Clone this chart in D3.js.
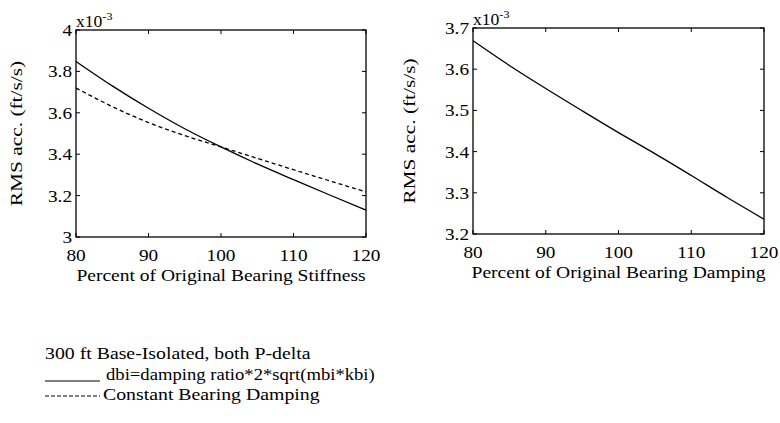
<!DOCTYPE html>
<html lang="en">
<head>
<meta charset="UTF-8">
<title>RMS acceleration vs bearing properties</title>
<script src="https://d3js.org/d3.v7.min.js"></script>
<style>
    body { margin: 0; background: #fff; }
    svg { font-family: "Liberation Serif", "DejaVu Serif", serif; fill: #000; }
</style>
</head>
<body>
<svg id="chart" width="780" height="423"></svg>
<script>
    // x values (percent of original)
    const pct = [80, 85, 90, 95, 100, 105, 110, 115, 120];

    // stiffness plot, values x10^-3
    const stiffSolid  = [3.848, 3.730, 3.622, 3.523, 3.435, 3.353, 3.277, 3.203, 3.130];
    const stiffDashed = [3.720, 3.630, 3.553, 3.490, 3.435, 3.380, 3.325, 3.271, 3.218];

    // damping plot, values x10^-3
    const dampSolid = [3.669, 3.609, 3.553, 3.499, 3.446, 3.395, 3.342, 3.288, 3.236];

    const xTicks = [80, 90, 100, 110, 120];
    const stiffYTicks = [3, 3.2, 3.4, 3.6, 3.8, 4];
    const dampYTicks = [3.2, 3.3, 3.4, 3.5, 3.6, 3.7];

    const legendTitle = "300 ft Base-Isolated, both P-delta";
    const legendItems = [
        { text: "dbi=damping ratio*2*sqrt(mbi*kbi)", dash: null },
        { text: "Constant Bearing Damping", dash: "4,2" }
    ];

    const svg = d3.select("#chart");

    // the scanned figure's type is wide, so labels get a horizontal stretch
    function label(g, x, y, str, size, anchor, sx, rot) {
        return g.append("text")
            .attr("transform", `translate(${x},${y})${rot ? " rotate(" + rot + ")" : ""} scale(${sx},1)`)
            .attr("text-anchor", anchor)
            .style("font-size", size + "px")
            .text(str);
    }

    function drawPanel(opts) {
        const { left, top, w, h, yDomain, yTicks, series, xLabel, yLabelOff } = opts;
        const x = d3.scaleLinear().domain([80, 120]).range([left, left + w]);
        const y = d3.scaleLinear().domain(yDomain).range([top + h, top]);
        const g = svg.append("g");

        g.append("rect")
            .attr("x", left).attr("y", top)
            .attr("width", w).attr("height", h)
            .attr("fill", "none").attr("stroke", "#000").attr("stroke-width", 1.3);

        // inward ticks on all four sides
        const tl = 4;
        xTicks.forEach(t => {
            g.append("line").attr("x1", x(t)).attr("x2", x(t))
                .attr("y1", top + h).attr("y2", top + h - tl).attr("stroke", "#000");
            g.append("line").attr("x1", x(t)).attr("x2", x(t))
                .attr("y1", top).attr("y2", top + tl).attr("stroke", "#000");
            label(g, x(t), top + h + 24, t, 17.5, "middle", 1.1);
        });
        yTicks.forEach(t => {
            g.append("line").attr("x1", left).attr("x2", left + tl)
                .attr("y1", y(t)).attr("y2", y(t)).attr("stroke", "#000");
            g.append("line").attr("x1", left + w).attr("x2", left + w - tl)
                .attr("y1", y(t)).attr("y2", y(t)).attr("stroke", "#000");
            label(g, left - 4, y(t) + 6, d3.format("~g")(t), 17.5, "end", 1.1);
        });

        // exponent label
        const ex = g.append("text")
            .attr("transform", `translate(${left},${top - 3}) scale(1.1,1)`)
            .style("font-size", "16px");
        ex.append("tspan").text("x10");
        ex.append("tspan").attr("dy", -7).style("font-size", "11px").text("-3");

        // axis labels
        label(g, left + w / 2, top + h + 44, xLabel, 17, "middle", 1.15);
        label(g, left - yLabelOff, top + h / 2, "RMS acc. (ft/s/s)", 17.5, "middle", 1.22, -90);

        const line = d3.line()
            .x((d, i) => x(pct[i]))
            .y(d => y(d))
            .curve(d3.curveMonotoneX);

        series.forEach(s => {
            g.append("path")
                .datum(s.values)
                .attr("d", line)
                .attr("fill", "none")
                .attr("stroke", "#000")
                .attr("stroke-width", 1.3)
                .attr("stroke-dasharray", s.dash);
        });
    }

    drawPanel({
        left: 76, top: 30, w: 290, h: 207,
        yDomain: [3, 4], yTicks: stiffYTicks, yLabelOff: 54,
        xLabel: "Percent of Original Bearing Stiffness",
        series: [
            { values: stiffSolid, dash: null },
            { values: stiffDashed, dash: "4,3" }
        ]
    });

    drawPanel({
        left: 473, top: 28, w: 291, h: 206,
        yDomain: [3.2, 3.7], yTicks: dampYTicks, yLabelOff: 58,
        xLabel: "Percent of Original Bearing Damping",
        series: [
            { values: dampSolid, dash: null }
        ]
    });

    // legend
    const lg = svg.append("g");
    label(lg, 45, 359, legendTitle, 16.5, "start", 1.2);
    legendItems.forEach((it, i) => {
        const yy = 380 + i * 20;
        const ly = it.dash ? yy - 4 : yy + 1;
        lg.append("line")
            .attr("x1", 45).attr("x2", 100)
            .attr("y1", ly).attr("y2", ly)
            .attr("stroke", "#000").attr("stroke-width", 1.1)
            .attr("stroke-dasharray", it.dash);
        label(lg, it.dash ? 103 : 106, yy, it.text, 16.5, "start", it.dash ? 1.2 : 1.13);
    });
</script>
</body>
</html>
